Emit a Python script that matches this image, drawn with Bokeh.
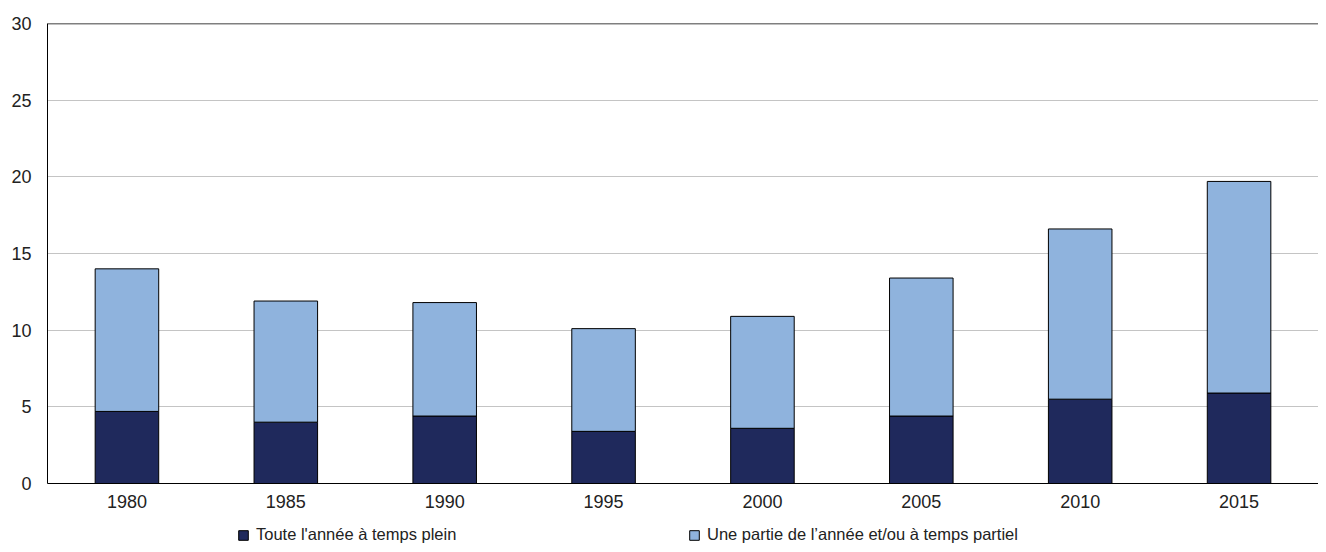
from bokeh.plotting import figure
from bokeh.models import Legend, LegendItem, FixedTicker, Range1d, ColumnDataSource, Span
from bokeh.layouts import column
from bokeh.embed import file_html
from bokeh.resources import INLINE

years = ["1980", "1985", "1990", "1995", "2000", "2005", "2010", "2015"]
full_year = [4.7, 4.0, 4.4, 3.4, 3.6, 4.4, 5.5, 5.9]
part_year = [9.3, 7.9, 7.4, 6.7, 7.3, 9.0, 11.1, 13.8]
series_names = ["Toute l'année à temps plein", "Une partie de l’année et/ou à temps partiel"]
colors = ["#1f295c", "#8fb3dd"]
y_ticks = [0, 5, 10, 15, 20, 25, 30]
y_max = 30

FONT = "Liberation Sans"

p = figure(x_range=years, y_range=Range1d(0, y_max), width=1318, height=512,
           output_backend="svg", toolbar_location=None,
           min_border_left=47, min_border_right=0, min_border_top=23, min_border_bottom=29)

data = {"years": years, "full": full_year, "part": part_year}
rs = p.vbar_stack(["full", "part"], x="years", width=0.4, color=colors,
                  line_color="black", line_width=1, source=data)

p.x_range.range_padding = 0
p.xgrid.grid_line_color = None
p.ygrid.grid_line_color = "#c4c4c4"
p.ygrid.grid_line_width = 1
p.yaxis.ticker = FixedTicker(ticks=y_ticks)

for ax in (p.xaxis[0], p.yaxis[0]):
    ax.axis_line_color = "black"
    ax.axis_line_width = 1
    ax.major_tick_line_color = None
    ax.minor_tick_line_color = None
    ax.major_tick_out = 0
    ax.major_tick_in = 0
    ax.major_label_text_font = FONT
    ax.major_label_text_font_size = "18px"
    ax.major_label_text_color = "#222222"
p.xaxis.major_label_standoff = 11
p.yaxis.major_label_standoff = 16

# top border line only (the chart runs off the right edge in the reference)
p.outline_line_color = None
p.add_layout(Span(location=y_max, dimension="width", line_color="black", line_width=1.5))

# legend strip below the chart (its frame is aligned with the chart's frame)
lf = figure(width=1318, height=32, x_range=Range1d(0, 1), y_range=Range1d(0, 1),
            x_axis_type=None, y_axis_type=None, output_backend="svg",
            toolbar_location=None, min_border=0, outline_line_color=None)
lf.xgrid.grid_line_color = None
lf.ygrid.grid_line_color = None
legend_x = [190, 641]
for i, (name, col) in enumerate(zip(series_names, colors)):
    # proxy glyph kept outside the visible range: only its legend swatch shows
    src = ColumnDataSource(dict(x=[-10.0], top=[-10.0]))
    r = lf.vbar(x="x", top="top", width=0.1, source=src, fill_color=col, line_color="black")
    lg = Legend(items=[LegendItem(label=name, renderers=[r])],
                location=(legend_x[i], 0), orientation="horizontal",
                glyph_width=12, glyph_height=12, label_standoff=7,
                padding=0, margin=0, border_line_color=None, background_fill_alpha=0,
                label_text_font=FONT, label_text_font_size="16.5px",
                label_text_color="#222222", label_height=12)
    lf.add_layout(lg, "center")

layout = column(p, lf, spacing=0)
open("out.html", "w").write(file_html(layout, INLINE))
